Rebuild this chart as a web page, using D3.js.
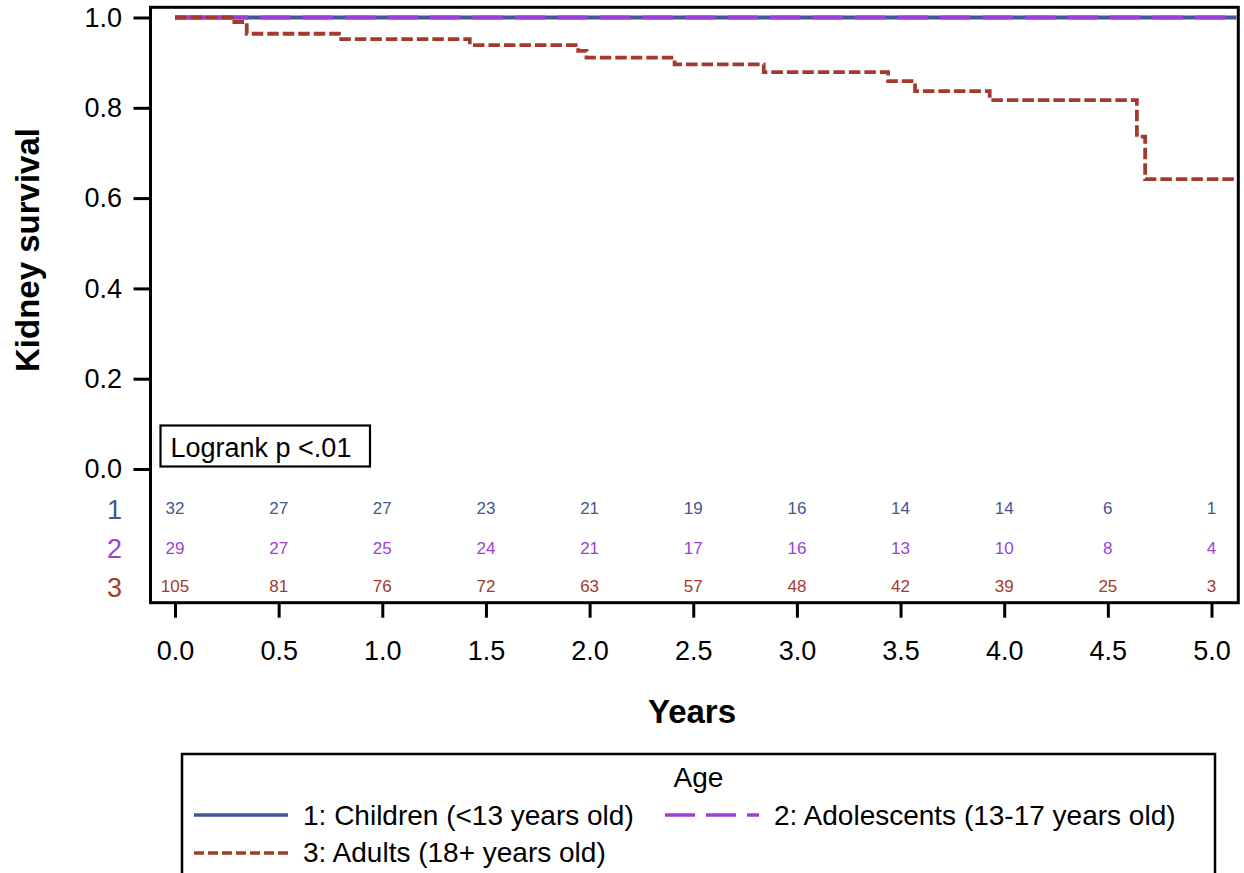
<!DOCTYPE html>
<html>
<head>
<meta charset="utf-8">
<script src="https://cdn.jsdelivr.net/npm/d3@7"></script>
<style>
  html, body { margin: 0; padding: 0; background: #fff; }
  svg { display: block; font-family: "Liberation Sans", Arial, Helvetica, sans-serif; }
</style>
</head>
<body>
<svg id="chart" width="1244" height="873"></svg>
<script>
// Kaplan-Meier kidney survival by age group, with numbers at risk

const groupIds = ["1", "2", "3"];
const groupLabels = [
  "1: Children (<13 years old)",
  "2: Adolescents (13-17 years old)",
  "3: Adults (18+ years old)"
];
const groupColors = ["#445694", "#9B3FDA", "#A23A2E"];

// Survival step functions (time in years, survival probability)
const childrenTimes = [0, 5.12];
const childrenSurv = [1, 1];
const adolescentTimes = [0, 5.12];
const adolescentSurv = [1, 1];
const adultTimes = [0, 0.273, 0.346, 0.791, 1.422, 1.945, 1.985, 2.41, 2.84, 3.44, 3.57, 3.93, 4.64, 4.68, 5.12];
const adultSurv = [1, 0.990, 0.964, 0.952, 0.939, 0.926, 0.911, 0.896, 0.879, 0.859, 0.837, 0.817, 0.736, 0.642, 0.642];

// Numbers at risk at each half-year
const riskTimes = [0, 0.5, 1, 1.5, 2, 2.5, 3, 3.5, 4, 4.5, 5];
const riskChildren = [32, 27, 27, 23, 21, 19, 16, 14, 14, 6, 1];
const riskAdolescents = [29, 27, 25, 24, 21, 17, 16, 13, 10, 8, 4];
const riskAdults = [105, 81, 76, 72, 63, 57, 48, 42, 39, 25, 3];

const xTicks = [0, 0.5, 1, 1.5, 2, 2.5, 3, 3.5, 4, 4.5, 5];
const yTicks = [0, 0.2, 0.4, 0.6, 0.8, 1.0];

const svg = d3.select("#chart");

// Plot frame
const frame = { left: 150.5, top: 7.3, right: 1238.3, bottom: 602.7 };

const x = d3.scaleLinear().domain([0, 5]).range([175, 1211.5]);
const y = d3.scaleLinear().domain([0, 1]).range([469, 17.5]);

svg.append("defs").append("clipPath").attr("id", "plotClip")
  .append("rect")
  .attr("x", frame.left).attr("y", frame.top)
  .attr("width", frame.right - frame.left).attr("height", frame.bottom - frame.top);

// Axes
const yAxis = d3.axisLeft(y).tickValues(yTicks).tickFormat(d3.format(".1f"))
  .tickSize(17).tickPadding(11.5);
const gy = svg.append("g").attr("transform", `translate(${frame.left},0)`).call(yAxis);

const xAxis = d3.axisBottom(x).tickValues(xTicks).tickFormat(d3.format(".1f"))
  .tickSize(15).tickPadding(23.5);
const gx = svg.append("g").attr("transform", `translate(0,${frame.bottom})`).call(xAxis);

[gx, gy].forEach(g => {
  g.select(".domain").remove();
  g.selectAll(".tick line").attr("stroke", "#000").attr("stroke-width", 3);
  g.selectAll(".tick text").attr("fill", "#000").style("font-size", "27px")
    .style("font-family", '"Liberation Sans", Arial, sans-serif');
});

// Survival curves
const curves = [
  { t: childrenTimes, s: childrenSurv, color: groupColors[0], dash: null },
  { t: adolescentTimes, s: adolescentSurv, color: groupColors[1], dash: "30.5,12" },
  { t: adultTimes, s: adultSurv, color: groupColors[2], dash: "11.5,4" }
];
const line = d3.line().x(d => x(d[0])).y(d => y(d[1])).curve(d3.curveStepAfter);
const gCurves = svg.append("g").attr("clip-path", "url(#plotClip)");
curves.forEach(c => {
  gCurves.append("path")
    .datum(c.t.map((t, i) => [t, c.s[i]]))
    .attr("d", line)
    .attr("fill", "none")
    .attr("stroke", c.color)
    .attr("stroke-width", 3.8)
    .attr("stroke-dasharray", c.dash);
});

// Numbers at risk table
const riskRows = [riskChildren, riskAdolescents, riskAdults];
const rowY = [508, 547.5, 586];
riskRows.forEach((row, r) => {
  svg.append("g").selectAll("text")
    .data(row)
    .join("text")
    .attr("x", (d, i) => x(riskTimes[i]))
    .attr("y", rowY[r])
    .attr("dy", "0.36em")
    .attr("text-anchor", "middle")
    .attr("fill", groupColors[r])
    .style("font-size", "17px")
    .text(d => d);
  svg.append("text")
    .attr("x", 122)
    .attr("y", rowY[r] + 1)
    .attr("dy", "0.36em")
    .attr("text-anchor", "end")
    .attr("fill", groupColors[r])
    .style("font-size", "27px")
    .text(groupIds[r]);
});

// Frame
svg.append("rect")
  .attr("x", frame.left).attr("y", frame.top)
  .attr("width", frame.right - frame.left).attr("height", frame.bottom - frame.top)
  .attr("fill", "none").attr("stroke", "#000").attr("stroke-width", 3);

// Logrank annotation
svg.append("rect")
  .attr("x", 160.5).attr("y", 425.5).attr("width", 209.5).attr("height", 41)
  .attr("fill", "#fff").attr("stroke", "#000").attr("stroke-width", 2.2);
svg.append("text")
  .attr("x", 170.5).attr("y", 456.5)
  .style("font-size", "27px").attr("fill", "#000")
  .text("Logrank p <.01");

// Axis titles
svg.append("text")
  .attr("x", 692).attr("y", 723)
  .attr("text-anchor", "middle")
  .style("font-size", "33px").style("font-weight", "bold")
  .text("Years");
svg.append("text")
  .attr("transform", "translate(38.5,250) rotate(-90)")
  .attr("text-anchor", "middle")
  .style("font-size", "33px").style("font-weight", "bold")
  .text("Kidney survival");

// Legend
const legend = svg.append("g");
legend.append("rect")
  .attr("x", 182).attr("y", 754).attr("width", 1033).attr("height", 125)
  .attr("fill", "none").attr("stroke", "#000").attr("stroke-width", 2.5);
legend.append("text")
  .attr("x", 698.5).attr("y", 787)
  .attr("text-anchor", "middle")
  .style("font-size", "28px")
  .text("Age");

const legendItems = [
  { x0: 194, lineY: 815, textY: 825, dash: null },
  { x0: 665, lineY: 815, textY: 825, dash: "30,11" },
  { x0: 194, lineY: 853, textY: 862, dash: "10,4" }
];
legendItems.forEach((it, i) => {
  legend.append("line")
    .attr("x1", it.x0).attr("x2", it.x0 + 94)
    .attr("y1", it.lineY).attr("y2", it.lineY)
    .attr("stroke", groupColors[i]).attr("stroke-width", 3.6)
    .attr("stroke-dasharray", it.dash);
  legend.append("text")
    .attr("x", it.x0 + 109).attr("y", it.textY)
    .style("font-size", "28px")
    .text(groupLabels[i]);
});
</script>
</body>
</html>
